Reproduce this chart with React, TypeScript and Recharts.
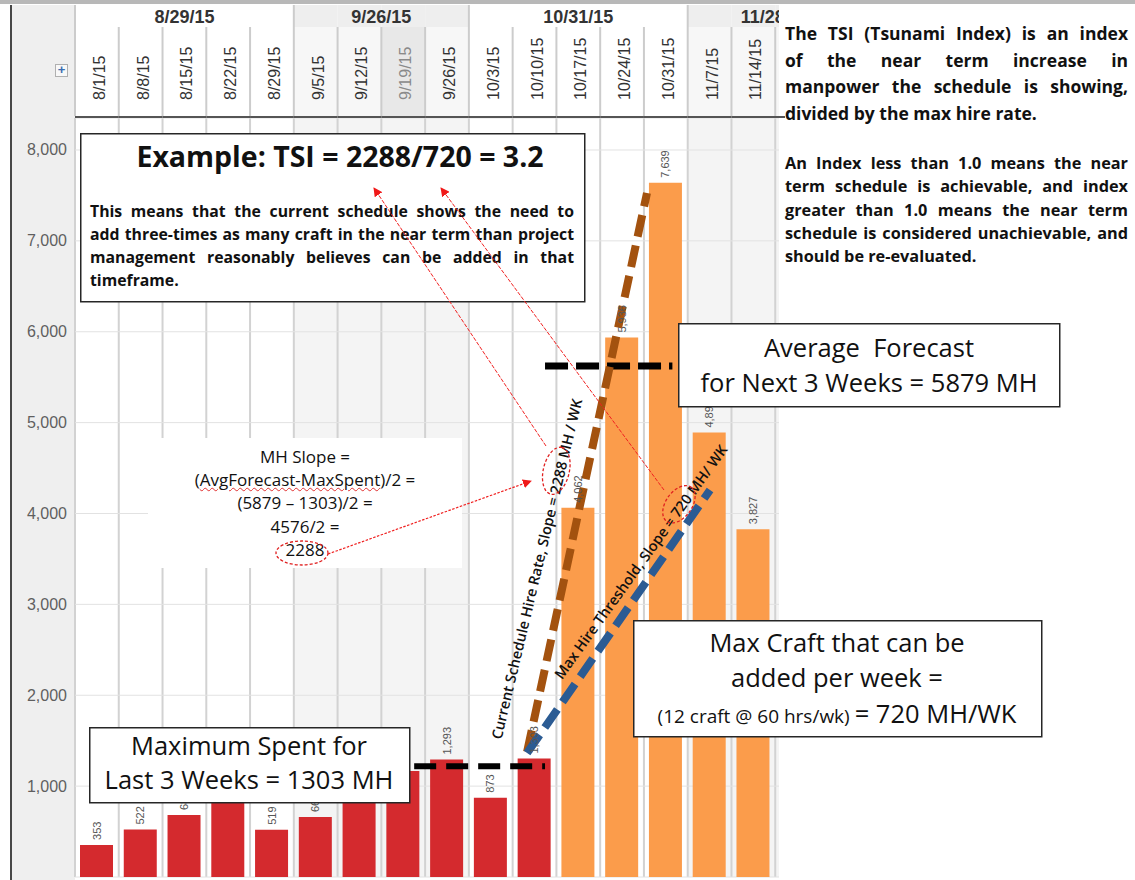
import React from 'react';
import { ComposedChart, Bar, Cell, XAxis, YAxis, CartesianGrid, ReferenceLine, LabelList } from 'recharts';

const weeks = ['8/1/15', '8/8/15', '8/15/15', '8/22/15', '8/29/15', '9/5/15', '9/12/15', '9/19/15', '9/26/15',
  '10/3/15', '10/10/15', '10/17/15', '10/24/15', '10/31/15', '11/7/15', '11/14/15', '11/21/15'];
const spentMH = [353, 522, 682, 958, 519, 660, 1114, 1166, 1293, 873, 1303, null, null, null, null, null, null];
const forecastMH = [null, null, null, null, null, null, null, null, null, null, null, 4062, 5936, 7639, 4890, 3827, null];
const groupLabels = ['8/29/15', '9/26/15', '10/31/15', '11/28/15'];
const groupSizes = [5, 4, 5, 4];
const yTicks = [0, 1000, 2000, 3000, 4000, 5000, 6000, 7000, 8000];
const selectedWeek = '9/19/15';

// annotation lines, in (column position, MH)
const maxSpentLine = [{ x: 7.75, y: 1220 }, { x: 10.74, y: 1220 }];
const avgForecastLine = [{ x: 10.74, y: 5623 }, { x: 13.65, y: 5623 }];
const scheduleHireLine = [{ x: 10.33, y: 1376 }, { x: 13.07, y: 7527 }];
const maxHireLine = [{ x: 10.33, y: 1365 }, { x: 14.51, y: 4259 }];

const RED = '#d42a2e';
const ORANGE = '#fb9c4b';
const CHART_W = 819;
const PLOT_LEFT = 75;
const VISIBLE_RIGHT = 779;
const COL_W = (CHART_W - PLOT_LEFT) / weeks.length;
const ARIAL = '"Liberation Sans", Arial, sans-serif';
const CAL = '"Open Sans", sans-serif';

const rows = weeks.map((week, i) => ({
  week,
  slot: i + 0.5,
  mh: spentMH[i] ?? forecastMH[i],
  forecast: forecastMH[i] != null,
}));

const groupInfo = (i: number) => {
  let start = 0;
  for (let g = 0; g < groupSizes.length; g++) {
    const end = start + groupSizes[g] - 1;
    if (i <= end) return { g, start, end };
    start = end + 1;
  }
  return { g: 0, start: 0, end: 0 };
};

const columnFills = weeks.map((_, i) => (groupInfo(i).g % 2 ? '#f4f4f4' : '#ffffff'));

const fmt = (v: number) => v.toLocaleString('en-US');

const HeaderTick = (props: any) => {
  const { x, payload } = props;
  const index = weeks.indexOf(payload.value);
  const week = weeks[index];
  const left = x - COL_W / 2;
  const { g, start, end } = groupInfo(index);
  const shaded = g % 2 === 1;
  const selected = week === selectedWeek;
  const lastInGroup = index === Math.min(end, weeks.length - 1);
  const groupCenter = left - (index - start) * COL_W + (groupSizes[g] * COL_W) / 2;
  const clipId = `hdr-clip-${index}`;
  return (
    <g>
      <defs>
        <clipPath id={clipId}>
          <rect x={0} y={0} width={VISIBLE_RIGHT} height={120} />
        </clipPath>
      </defs>
      <rect x={left} y={5} width={COL_W} height={22} fill={shaded ? '#eeeeee' : '#ffffff'} />
      <rect x={left} y={27} width={COL_W} height={89} fill={selected ? '#e8e8e8' : shaded ? '#f7f7f7' : '#ffffff'} />
      <line x1={left} x2={left} y1={index === start ? 5 : 27} y2={116} stroke="#cccccc" strokeWidth={2} />
      <text transform={`translate(${x + 8},100) rotate(-90)`} fontSize={16} fill={selected ? '#8a8a8a' : '#333'} fontFamily={ARIAL}>
        {week}
      </text>
      <line x1={left} x2={left + COL_W} y1={117} y2={117} stroke="#555" strokeWidth={2} />
      {lastInGroup && (
        <g clipPath={`url(#${clipId})`}>
          <text x={groupCenter} y={23} textAnchor="middle" fontWeight="bold" fontSize={18} fill="#333" fontFamily={ARIAL}>
            {groupLabels[g]}
          </text>
        </g>
      )}
    </g>
  );
};

const YTick = (props: any) => {
  const { x, y, payload } = props;
  const v = payload.value;
  return (
    <text x={x} y={v === 0 ? y - 9 : y} dy={5.5} textAnchor="end" fontSize={16} fill="#5f5f5f" fontFamily={ARIAL}>
      {fmt(v)}
    </text>
  );
};

const BarValueLabel = (props: any) => {
  const { x, y, width, value } = props;
  if (value == null) return null;
  return (
    <text transform={`translate(${x + width / 2 + 4},${y - 5}) rotate(-90)`} fontSize={11} fill="#555" fontFamily={ARIAL}>
      {fmt(value)}
    </text>
  );
};

const Justified = ({ lines, left, top, width, fontSize, lineHeight }: any) => (
  <div style={{ position: 'absolute', left, top, width, fontFamily: CAL, fontWeight: 700, fontSize, lineHeight: `${lineHeight}px`, color: '#111' }}>
    {lines.map((l: string, i: number) => {
      const last = i === lines.length - 1;
      return (
        <div key={i} style={{ textAlign: last ? 'left' : 'justify', textAlignLast: last ? 'left' : 'justify' } as any}>
          {l}
        </div>
      );
    })}
  </div>
);

const tsiLines = ['The TSI (Tsunami Index) is an index', 'of the near term increase in', 'manpower the schedule is showing,', 'divided by the max hire rate.'];
const indexLines = ['An Index less than 1.0 means the near', 'term schedule is achievable, and index', 'greater than 1.0 means the near term',
  'schedule is considered unachievable, and', 'should be re-evaluated.'];
const exampleLines = ['This means that the current schedule shows the need to', 'add three-times as many craft in the near term than project',
  'management reasonably believes can be added in that', 'timeframe.'];

export default function App() {
  const box = { fill: '#fff', stroke: '#262626', strokeWidth: 1.5 };
  const big = { fontFamily: CAL, fontSize: 25.5, fill: '#111', textAnchor: 'middle' as const };
  return (
    <div style={{ position: 'absolute', left: 0, top: 0, width: 1135, height: 880, background: '#fff', overflow: 'hidden' }}>
      <div style={{ position: 'absolute', left: 0, top: 0, width: 1135, height: 4, background: '#b8b8b8' }} />
      <div style={{ position: 'absolute', left: 10, top: 5, width: 65, height: 875, background: '#efefef', borderLeft: '2px solid #474747', boxSizing: 'border-box' }} />
      <div style={{ position: 'absolute', left: 55, top: 64, width: 13, height: 13, border: '1px solid #b0b0b0', background: '#f8f8f8', boxSizing: 'border-box', color: '#3a6cb0', fontSize: 13, lineHeight: '10px', textAlign: 'center', fontFamily: ARIAL, fontWeight: 700 }}>+</div>

      <div style={{ position: 'absolute', left: 0, top: 0 }}>
        <ComposedChart width={CHART_W} height={880} data={rows} margin={{ top: 5, right: 0, bottom: 3, left: 10 }}>
          <CartesianGrid
            xAxisId="cat"
            yAxisId="v"
            horizontal={false}
            verticalCoordinatesGenerator={({ offset }: any) =>
              Array.from({ length: weeks.length + 1 }, (_, i) => offset.left + (i * offset.width) / weeks.length)
            }
            verticalFill={columnFills}
            stroke="#d2d2d2"
            strokeWidth={2}
          />
          <CartesianGrid xAxisId="cat" yAxisId="v" vertical={false} stroke="#e2e2e2" />
          <XAxis xAxisId="cat" dataKey="week" orientation="top" height={113} interval={0} tick={HeaderTick} tickLine={false} axisLine={false} tickSize={0} tickMargin={0} />
          <XAxis xAxisId="pos" dataKey="slot" type="number" domain={[0, weeks.length]} allowDataOverflow hide />
          <YAxis yAxisId="v" width={65} domain={[0, 8352]} ticks={yTicks} allowDataOverflow tick={YTick} axisLine={false} tickLine={false} />
          <Bar xAxisId="cat" yAxisId="v" dataKey="mh" barSize={33} isAnimationActive={false}>
            {rows.map((r) => (
              <Cell key={r.week} fill={r.forecast ? ORANGE : RED} />
            ))}
            <LabelList dataKey="mh" content={BarValueLabel} />
          </Bar>
          <ReferenceLine xAxisId="pos" yAxisId="v" segment={maxSpentLine} stroke="#000" strokeWidth={6} strokeDasharray="22 10" ifOverflow="visible" />
          <ReferenceLine xAxisId="pos" yAxisId="v" segment={avgForecastLine} stroke="#000" strokeWidth={7} strokeDasharray="23 8" ifOverflow="visible" />
          <ReferenceLine xAxisId="pos" yAxisId="v" segment={scheduleHireLine} stroke="#a3520f" strokeWidth={8} strokeDasharray="22 9" ifOverflow="visible" />
          <ReferenceLine xAxisId="pos" yAxisId="v" segment={maxHireLine} stroke="#2b5b93" strokeWidth={8} strokeDasharray="22 9" ifOverflow="visible" />
        </ComposedChart>
      </div>

      <div style={{ position: 'absolute', left: VISIBLE_RIGHT, top: 5, width: 356, height: 875, background: '#fff' }} />
      <div style={{ position: 'absolute', left: 775, top: 116, width: 10, height: 2, background: '#555' }} />
      <Justified lines={tsiLines} left={785} top={20} width={343} fontSize={17.5} lineHeight={26.7} />
      <Justified lines={indexLines} left={785} top={152} width={343} fontSize={16.3} lineHeight={23.3} />

      <svg style={{ position: 'absolute', left: 0, top: 0 }} width={1135} height={880}>
        <rect x={80.75} y={133.75} width={504} height={168} {...box} />
        <text x={340} y={167} textAnchor="middle" fontFamily={CAL} fontWeight={700} fontSize={28.5} fill="#111">
          Example: TSI = 2288/720 = 3.2
        </text>
        <rect x={678.75} y={323.75} width={381} height={83} {...box} />
        <text x={869} y={357} {...big} style={{ whiteSpace: 'pre' }}>Average  Forecast</text>
        <text x={869} y={392} {...big}>for Next 3 Weeks = 5879 MH</text>
        <rect x={633.75} y={620.75} width={408} height={116} {...box} />
        <text x={837} y={652} {...big}>Max Craft that can be</text>
        <text x={837} y={687} {...big}>added per week =</text>
        <text x={837} y={723} {...big}>
          <tspan fontSize={19}>(12 craft @ 60 hrs/wk) </tspan>= 720 MH/WK
        </text>
        <rect x={89.75} y={727.75} width={320} height={75} {...box} />
        <text x={249} y={755} {...big}>Maximum Spent for</text>
        <text x={249} y={789} {...big}>Last 3 Weeks = 1303 MH</text>
      </svg>

      <Justified lines={exampleLines} left={90} top={200} width={484} fontSize={15.8} lineHeight={23} />
      <div style={{ position: 'absolute', left: 148, top: 438, width: 314, height: 130, background: '#fff', paddingTop: 6.5, boxSizing: 'border-box', textAlign: 'center', fontFamily: CAL, fontSize: 17, lineHeight: '23.4px', color: '#111' }}>
        <div>MH Slope =</div>
        <div>(<span style={{ textDecoration: 'underline wavy #e03030', textDecorationThickness: 1 }}>AvgForecast-MaxSpent</span>)/2 =</div>
        <div>(5879 – 1303)/2 =</div>
        <div>4576/2 =</div>
        <div>2288</div>
      </div>

      <svg style={{ position: 'absolute', left: 0, top: 0 }} width={1135} height={880}>
        <defs>
          <marker id="redHead" viewBox="0 0 10 10" refX="9" refY="5" markerWidth="9" markerHeight="9" markerUnits="userSpaceOnUse" orient="auto">
            <path d="M0,0 L10,5 L0,10 z" fill="#f01818" />
          </marker>
        </defs>
        <line x1={328} y1={554} x2={531} y2={481} stroke="#f02020" strokeWidth={1.2} strokeDasharray="2.5 1.5" markerEnd="url(#redHead)" />
        <line x1={546} y1={446} x2={374} y2={188} stroke="#f02020" strokeWidth={1} strokeDasharray="4 1.5" markerEnd="url(#redHead)" />
        <line x1={664} y1={490} x2={441} y2={188} stroke="#f02020" strokeWidth={1} strokeDasharray="4 1.5" markerEnd="url(#redHead)" />
        <ellipse cx={302} cy={553} rx={26} ry={12} fill="none" stroke="#e02020" strokeWidth={1.3} strokeDasharray="3 2" />
        <g transform="translate(537,569) rotate(-76.6)">
          <text x={0} y={5} textAnchor="middle" fontFamily={CAL} fontWeight={600} fontSize={14.5} fill="#111">
            Current Schedule Hire Rate, Slope = 2288 MH / WK
          </text>
          <ellipse cx={100} cy={-4} rx={24} ry={13} fill="none" stroke="#e02020" strokeWidth={1.3} strokeDasharray="3 2" />
        </g>
        <g transform="translate(641,562) rotate(-54.2)">
          <text x={0} y={5} textAnchor="middle" fontFamily={CAL} fontWeight={600} fontSize={14.5} fill="#111">
            Max Hire Threshold, Slope = 720 MH/ WK
          </text>
          <ellipse cx={69} cy={-3} rx={21} ry={13} fill="none" stroke="#e02020" strokeWidth={1.3} strokeDasharray="3 2" />
        </g>
      </svg>
    </div>
  );
}
